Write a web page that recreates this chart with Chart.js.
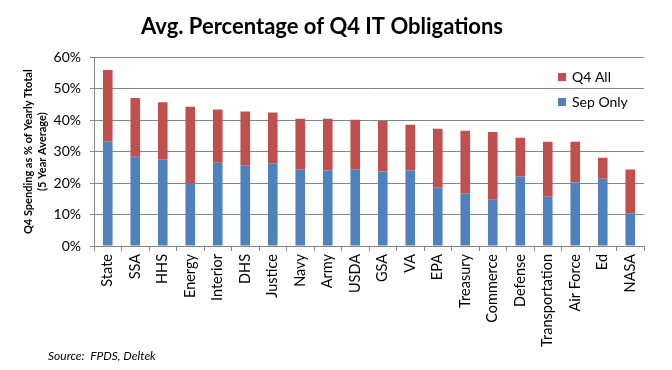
<!DOCTYPE html>
<html>
<head>
<meta charset="utf-8">
<script src="https://cdn.jsdelivr.net/npm/chart.js@4"></script>
<style>
  body { margin: 0; background: #fff; }
  #wrap { width: 672px; height: 370px; }
</style>
</head>
<body>
<div id="wrap"><canvas id="chart" width="672" height="370"></canvas></div>
<script>
const agencies = ['State', 'SSA', 'HHS', 'Energy', 'Interior', 'DHS', 'Justice', 'Navy', 'Army', 'USDA',
  'GSA', 'VA', 'EPA', 'Treasury', 'Commerce', 'Defense', 'Transportation', 'Air Force', 'Ed', 'NASA'];
// percent of yearly total, 5 year average
const sepOnly = [33.3, 28.4, 27.6, 19.9, 26.5, 25.7, 26.3, 24.4, 24.0, 24.4,
  23.7, 24.0, 18.7, 16.8, 14.9, 22.1, 15.7, 20.2, 21.4, 10.4];
const q4All = [56.0, 47.1, 45.7, 44.3, 43.4, 42.8, 42.5, 40.5, 40.5, 40.2,
  39.8, 38.6, 37.3, 36.7, 36.3, 34.4, 33.2, 33.2, 28.1, 24.3];
const yTicks = [0, 10, 20, 30, 40, 50, 60];

const FONT = 'Lato, "Open Sans", sans-serif';
const GRID = '#868686';

// the rest of Q4 sits on top of the September part
const q4Rest = q4All.map((v, i) => +(v - sepOnly[i]).toFixed(1));

const insideLegend = {
  id: 'insideLegend',
  afterDraw(chart) {
    const ctx = chart.ctx;
    const items = chart.data.datasets.slice().reverse();
    ctx.save();
    ctx.font = '14px ' + FONT;
    ctx.textBaseline = 'middle';
    items.forEach((ds, i) => {
      const y = 77 + i * 25;
      ctx.fillStyle = ds.backgroundColor;
      ctx.fillRect(558, y - 4, 8, 8);
      ctx.fillStyle = '#000';
      ctx.fillText(ds.label, 572, y);
    });
    ctx.restore();
  }
};

const sourceNote = {
  id: 'sourceNote',
  afterDraw(chart) {
    const ctx = chart.ctx;
    ctx.save();
    ctx.font = 'italic 12px ' + FONT;
    ctx.fillStyle = '#000';
    ctx.textBaseline = 'middle';
    ctx.fillText('Source:  FPDS, Deltek', 48, 356);
    ctx.restore();
  }
};

new Chart(document.getElementById('chart'), {
  type: 'bar',
  data: {
    labels: agencies,
    datasets: [
      { label: 'Sep Only', data: sepOnly, backgroundColor: '#4F81BD' },
      { label: 'Q4 All', data: q4Rest, backgroundColor: '#C0504D' }
    ]
  },
  options: {
    responsive: false,
    animation: false,
    layout: { padding: { left: 0, right: 28, top: 0, bottom: 0 } },
    datasets: { bar: { categoryPercentage: 1, barPercentage: 0.35 } },
    plugins: {
      legend: { display: false },
      tooltip: { enabled: false },
      title: {
        display: true,
        text: 'Avg. Percentage of Q4 IT Obligations',
        color: '#000',
        font: { family: FONT, size: 22, weight: 'bold' },
        padding: { top: 14, bottom: 17 }
      }
    },
    scales: {
      x: {
        stacked: true,
        afterFit(s) { s.height = 124; },
        border: { color: GRID },
        grid: { drawOnChartArea: false, color: GRID, tickLength: 5 },
        ticks: {
          color: '#000',
          minRotation: 90,
          maxRotation: 90,
          autoSkip: false,
          padding: 3,
          font: { family: FONT, size: 14.5 }
        }
      },
      y: {
        stacked: true,
        min: 0,
        max: 60,
        afterFit(s) { s.width = 94; },
        afterBuildTicks(s) { s.ticks = yTicks.map(v => ({ value: v })); },
        border: { color: GRID },
        grid: { color: GRID, tickLength: 4 },
        ticks: {
          color: '#000',
          padding: 9,
          font: { family: FONT, size: 14 },
          callback: v => v + '%'
        },
        title: {
          display: true,
          text: ['Q4 Spending as % of Yearly Ttotal', '(5 Year Average)'],
          color: '#000',
          font: { family: FONT, size: 11, weight: 'bold', lineHeight: 1.3 },
          padding: { top: 21, bottom: 0 }
        }
      }
    }
  },
  plugins: [insideLegend, sourceNote]
});
</script>
</body>
</html>
